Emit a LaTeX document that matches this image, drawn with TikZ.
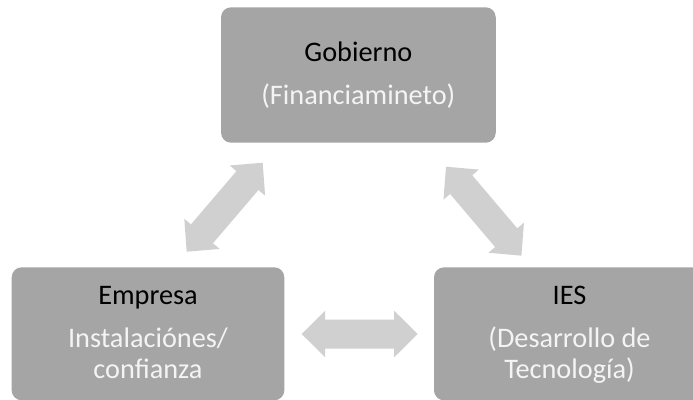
\documentclass[tikz,border=0pt]{standalone}
\usepackage{fontspec}
\setmainfont{Carlito}
\usetikzlibrary{calc}
\definecolor{boxgray}{HTML}{A5A5A5}
\definecolor{arrowgray}{HTML}{D0D0D0}
\definecolor{subwhite}{HTML}{F4F4F4}
\tikzset{
  boxnode/.style={rectangle, rounded corners=10pt, fill=boxgray, draw=none, inner sep=0pt},
  titletext/.style={anchor=base, font=\fontsize{28.3}{32}\selectfont, text=black, inner sep=0pt},
  subtext/.style={anchor=base, font=\fontsize{28.3}{32}\selectfont, text=subwhite, inner sep=0pt},
  arrowfill/.style={fill=arrowgray, draw=none}
}
\newcommand\dblarrow[2]{%
  \fill[arrowfill] let \p1=(#1), \p2=(#2), \n1={atan2(\y2-\y1,\x2-\x1)}, \n2={veclen(\x2-\x1,\y2-\y1)} in
    [shift={(\p1)}, rotate=\n1]
    (0,0) -- (23.5,23.25) -- (23.5,14.5) -- (\n2-23.5,14.5) -- (\n2-23.5,23.25) -- (\n2,0)
    -- (\n2-23.5,-23.25) -- (\n2-23.5,-14.5) -- (23.5,-14.5) -- (23.5,-23.25) -- cycle;
}
\begin{document}
\begin{tikzpicture}[x=1pt,y=1pt]
\useasboundingbox (0,0) rectangle (693,-399);
\begin{scope}
\clip (0,0) rectangle (693,-399);
% boxes
\node[boxnode, minimum width=274.7pt, minimum height=135.4pt] (gob) at (358.4,-75) {};
\node[boxnode, minimum width=272.6pt, minimum height=133pt] (emp) at (148,-333.8) {};
\node[boxnode, minimum width=273pt, minimum height=133pt] (ies) at (570.5,-333.8) {};
\end{scope}
% texts
\node[titletext] (gobt) at (358.4,-61) {Gobierno};
\node[subtext] (gobs) at (358.4,-104) {(Financiamineto)};
\node[titletext] (empt) at (148,-304.3) {Empresa};
\node[subtext] (emps1) at (148,-347.7) {Instalaciónes/};
\node[subtext] (emps2) at (148,-378.3) {confianza};
\node[titletext] (iest) at (569.5,-304.3) {IES};
\node[subtext] (iess1) at (569.5,-347.7) {(Desarrollo de};
\node[subtext] (iess2) at (569.5,-378.3) {Tecnología)};
% arrow end points
\coordinate (eg1) at (186.7,-251.7);
\coordinate (eg2) at (262.7,-162.7);
\coordinate (gi1) at (446,-166.7);
\coordinate (gi2) at (521.7,-256);
\coordinate (ei1) at (301.7,-334);
\coordinate (ei2) at (417.7,-334);
\dblarrow{eg1}{eg2}
\dblarrow{gi1}{gi2}
\dblarrow{ei1}{ei2}
\end{tikzpicture}
\end{document}
